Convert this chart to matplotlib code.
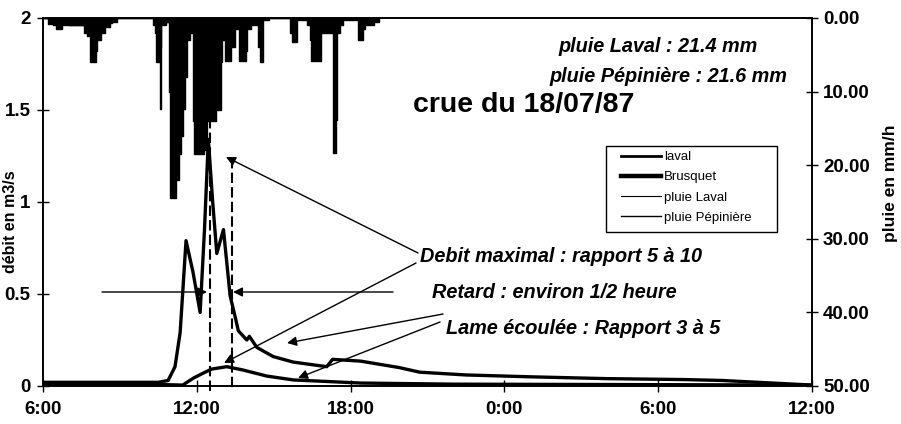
import matplotlib
matplotlib.use("Agg")
import matplotlib.pyplot as plt
from matplotlib.lines import Line2D
from matplotlib.patches import Rectangle
import numpy as np

plt.rcParams['font.family'] = ['Liberation Sans', 'DejaVu Sans']

# ---- data: time in hours after 6:00 on 18/07/87 ----
laval_t = [0.0, 2.0, 4.5, 4.88, 5.15, 5.35, 5.58, 5.85, 6.13, 6.3, 6.45, 6.62, 6.78, 7.04, 7.3,
           7.49, 7.62, 7.95, 8.05, 8.34, 8.98, 9.76, 11.07, 11.3, 12.4, 13.9, 14.7, 16.5,
           19.0, 22.0, 25.0, 26.5, 30.0]
laval_q = [0.02, 0.02, 0.02, 0.03, 0.105, 0.29, 0.79, 0.62, 0.40, 0.85, 1.34, 1.0, 0.72, 0.85, 0.49,
           0.38, 0.30, 0.25, 0.27, 0.21, 0.16, 0.13, 0.105, 0.145, 0.135, 0.10, 0.075, 0.06,
           0.05, 0.04, 0.035, 0.03, 0.005]

brus_t = [0.0, 4.0, 5.45, 5.87, 6.25, 6.58, 7.17, 7.8, 8.73, 9.76, 12.4, 16.0, 22.0, 30.0]
brus_q = [0.01, 0.01, 0.005, 0.043, 0.07, 0.092, 0.105, 0.087, 0.054, 0.033, 0.016, 0.01, 0.008, 0.005]

rain_laval_t = [0.0, 0.2, 0.5, 0.75, 1.0, 1.6, 1.85, 2.05, 2.25, 2.6, 2.9, 4.3, 4.4, 4.55, 4.62, 4.8,
                4.95, 5.2, 5.4, 5.55, 5.75, 5.9, 6.3, 6.7, 6.95, 7.1, 7.35, 7.65, 7.9, 8.1, 8.45,
                8.6, 8.8, 9.7, 9.9, 10.3, 10.45, 10.85, 11.3, 11.42, 11.7, 12.3, 12.5, 12.9, 13.1]
rain_laval_v = [0, 0.8, 1.5, 0.5, 1.0, 2.0, 6.0, 3.0, 1.2, 0.5, 0, 1.0, 6.0, 12.3, 1.0, 0.5,
                24.5, 18.5, 12.3, 3.0, 1.5, 18.5, 12.3, 12.5, 3.0, 5.8, 1.5, 5.8, 1.5, 0.8, 6.0,
                0.3, 0, 3.2, 0.3, 1.0, 5.8, 2.0, 18.4, 1.0, 0.3, 3.0, 1.0, 0.5, 0]

rain_pepi_t = [0.0, 0.25, 0.4, 1.7, 1.9, 2.1, 2.4, 2.7, 4.35, 4.45, 4.6, 4.9, 5.05, 5.3, 5.45, 5.6,
               5.85, 6.1, 6.4, 6.75, 7.0, 7.3, 7.5, 7.7, 7.95, 8.4, 8.55, 9.65, 9.85, 10.4, 10.55,
               10.75, 11.35, 11.45, 11.6, 12.35, 12.55, 12.9]
rain_pepi_v = [0, 0.5, 1.0, 2.5, 4.5, 2.0, 0.7, 0, 2.0, 4.0, 0.5, 10.0, 22.0, 16.0, 8.0, 2.0,
               14.0, 18.0, 14.0, 6.0, 2.5, 4.0, 1.0, 4.5, 1.0, 4.0, 0, 2.0, 0, 3.0, 5.0,
               1.5, 13.9, 2.0, 0, 1.5, 0.5, 0]

x_ticks = [0, 6, 12, 18, 24, 30]
x_labels = ["6:00", "12:00", "18:00", "0:00", "6:00", "12:00"]
left_ticks = [0, 0.5, 1, 1.5, 2]
left_labels = ["0", "0.5", "1", "1.5", "2"]
right_ticks = [0, 10, 20, 30, 40, 50]
right_labels = ["0.00", "10.00", "20.00", "30.00", "40.00", "50.00"]

# ---- figure ----
fig = plt.figure(figsize=(9.01, 4.24), dpi=100)
ax = fig.add_axes([43/901, 1-386/424, (812-43)/901, (386-18)/424])
ax2 = ax.twinx()

# rain (inverted right axis)
for t, v in [(rain_pepi_t, rain_pepi_v), (rain_laval_t, rain_laval_v)]:
    ax2.fill_between(t, 0, v, step='post', color='black', linewidth=0)
    ax2.step(t, v, where='post', color='black', lw=1.0)
ax2.set_ylim(50, 0)
ax2.set_yticks(right_ticks)
ax2.set_yticklabels(right_labels)

# flows
ax.plot(laval_t, laval_q, color='black', lw=2.4, zorder=5)
ax.plot(brus_t, brus_q, color='black', lw=2.4, zorder=5)
ax.set_zorder(ax2.get_zorder() + 1)
ax.patch.set_visible(False)

ax.set_xlim(0, 30)
ax.set_ylim(0, 2)
ax.set_xticks(x_ticks)
ax.set_xticklabels(x_labels)
ax.set_yticks(left_ticks)
ax.set_yticklabels(left_labels)

for a in (ax, ax2):
    a.tick_params(direction='inout', length=8, width=1, labelsize=13.5)
    for lab in a.get_xticklabels() + a.get_yticklabels():
        lab.set_fontweight('bold')
    for s in a.spines.values():
        s.set_linewidth(1.2)
ax.tick_params(axis='x', pad=7)
ax.tick_params(axis='y', pad=5)
ax2.tick_params(axis='y', pad=4)

fig.text(11/901, 1-222/424, "débit en m3/s", rotation=90, ha='center', va='center',
         fontsize=11.5, fontweight='bold')
fig.text(891/901, 1-183/424, "pluie en mm/h", rotation=90, ha='center', va='center',
         fontsize=12.5, fontweight='bold')

# dashed peak lines
ax.plot([6.5, 6.5], [1.457, -0.03], color='black', lw=1.5, ls=(0, (5, 2)), clip_on=False, zorder=6)
ax.plot([7.38, 7.38], [1.24, -0.02], color='black', lw=1.5, ls=(0, (5, 2)), clip_on=False, zorder=6)

# helper: pixel -> data
def P(x, y):
    return ((x - 43) / 25.63, (386 - y) / 184)

arrow = dict(arrowstyle='-|>', color='black', lw=1.0, mutation_scale=14, shrinkA=0, shrinkB=0)
ax.annotate("", xy=P(226, 157), xytext=P(418, 253), arrowprops=arrow)
ax.annotate("", xy=P(224, 363), xytext=P(416, 263), arrowprops=arrow)
ax.annotate("", xy=P(233, 292), xytext=P(393, 292), arrowprops=arrow)
ax.annotate("", xy=P(207, 292), xytext=P(102, 292), arrowprops=arrow)
ax.annotate("", xy=P(287, 343), xytext=P(443, 314), arrowprops=arrow)
ax.annotate("", xy=P(298, 378), xytext=P(440, 322), arrowprops=arrow)

tk = dict(fontsize=14.3, fontweight='bold', fontstyle='italic', transform=fig.transFigure)
fig.text(758/901, 1-46/424, "pluie Laval : 21.4 mm", ha='right', va='center', **tk)
fig.text(787/901, 1-77/424, "pluie Pépinière : 21.6 mm", ha='right', va='center', **tk)
fig.text(413/901, 1-105/424, "crue du 18/07/87", ha='left', va='center', fontsize=20.5,
         fontweight='bold', transform=fig.transFigure)
fig.text(420/901, 1-257/424, "Debit maximal : rapport 5 à 10", ha='left', va='center', **tk)
fig.text(432/901, 1-293/424, "Retard : environ 1/2 heure", ha='left', va='center', **tk)
fig.text(446/901, 1-328/424, "Lame écoulée : Rapport 3 à 5", ha='left', va='center', **tk)

# legend (frame drawn separately)
handles = [Line2D([], [], color='black', lw=2.0),
           Line2D([], [], color='black', lw=3.2),
           Line2D([], [], color='black', lw=0.8),
           Line2D([], [], color='black', lw=1.0)]
labels = ["laval", "Brusquet", "pluie Laval", "pluie Pépinière"]
leg = fig.legend(handles, labels, loc='upper left',
                 bbox_to_anchor=(621/901, 1-151/424), fontsize=9.5,
                 frameon=False, handlelength=3.0, handletextpad=0.25,
                 labelspacing=0.6, borderpad=0, borderaxespad=0)
leg.set_zorder(10)
fig.patches.append(Rectangle((606/901, 1-232/424), (777-606)/901, (232-146)/424,
                             transform=fig.transFigure, fill=True, facecolor='white',
                             edgecolor='black', lw=1.0, zorder=9))

fig.savefig("out.png", dpi=100)
